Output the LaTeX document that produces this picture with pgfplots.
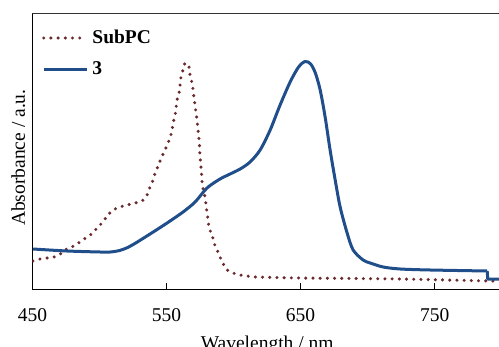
\documentclass[border=0pt]{standalone}
\usepackage{fontspec}
\setmainfont{Liberation Serif}
\usepackage{pgfplots}
\pgfplotsset{compat=1.18}
\definecolor{cblue}{RGB}{31,78,138}
\definecolor{cmaroon}{RGB}{107,42,45}
\begin{document}
\begin{tikzpicture}
\begin{axis}[
  scale only axis,
  width=466.5bp, height=276bp,
  xmin=450, xmax=798, ymin=0, ymax=276,
  axis x line*=bottom, axis y line*=left,
  axis line style={line width=0.8bp, black},
  xtick={450,550,650,750}, ytick=\empty,
  tick align=inside,
  major tick length=6bp,
  every tick/.style={black, line width=0.8bp},
  /pgf/number format/assume math mode=true,
  ticklabel style={font=\fontsize{19.5bp}{23bp}\selectfont},
  xticklabel style={anchor=base, yshift=-32bp},
  xlabel={Wavelength / nm},
  ylabel={Absorbance / a.u.},
  label style={font=\fontsize{19.5bp}{23bp}\selectfont},
  xlabel style={at={(axis description cs:0.503,0)}, anchor=base, yshift=-60bp},
  ylabel style={at={(axis description cs:-0.0161,0.476)}, anchor=base, rotate=0},
  legend style={draw=none, fill=none, inner sep=0pt, outer sep=0pt,
    at={(axis description cs:0.0204,0.942)}, anchor=north west,
    font=\fontsize{19.5bp}{23bp}\selectfont\bfseries,
    row sep=13bp, column sep=4bp,
    nodes={inner sep=0pt, text height=14bp, text depth=4bp}},
  legend cell align=left,
  legend image code/.code={\draw[#1] (0bp,0bp) -- (43bp,0bp);},
]
\draw[line width=0.8bp, black!80] (rel axis cs:0,1) -- (rel axis cs:1,1);
\addplot[cmaroon, line width=3.4bp, line cap=round, dash pattern=on 0pt off 7.2bp, smooth, tension=0.3] coordinates {
(450.4,28) (455.6,30) (460.8,31) (466.0,32) (472.0,36) (476.5,41) (481.0,43)
(485.4,47) (490.7,52) (495.1,56) (498.1,61) (502.6,67) (505.6,73) (510.1,79)
(515.3,82) (520.5,84) (526.5,86) (531.8,88) (535.5,94) (537.7,102) (540.0,109)
(541.5,116) (543.7,123) (546.0,131) (548.2,137) (550.4,144) (552.6,151)
(554.1,159) (554.9,166) (556.4,174) (557.1,181) (557.8,189) (559.3,196)
(560.1,204) (560.8,212) (562.3,219) (563.8,226) (565.3,225) (566.8,222)
(567.5,214) (569.0,206) (569.8,199) (570.5,191) (571.3,183) (572.0,176)
(572.8,168) (573.3,161) (574.0,153) (574.5,145) (574.8,137) (575.2,130)
(575.7,122) (576.1,115) (576.5,107) (577.3,100) (578.7,92) (579.5,84)
(580.2,76) (581.0,69) (581.7,61) (584.0,54) (585.4,46) (587.7,39) (589.9,32)
(594.4,20) (599.6,16) (604.9,14) (610.1,13) (616.0,12) (649.6,11) (724.3,10)
(791.5,8) (796.6,8)
};
\addlegendentry{SubPC}
\addplot[cblue, line width=3bp, line join=round, smooth, tension=0.5] coordinates {
(450.4,40) (475.7,38) (500.4,37) (508,37) (515,38.5) (521,41.5) (527,46) (537.7,55)
(550.4,66) (562.3,77) (571.3,87) (580.2,101) (589.9,110) (597.4,115)
(604.9,120) (612.3,127) (619.8,139) (627.3,159) (634.7,184) (642.2,207)
(648.5,222) (653.4,227.5) (657.5,225) (661,216) (664.6,199) (668.3,172) (672.0,139)
(675.8,109) (679.5,82) (684.7,56) (689.2,39) (696.6,29) (701.9,26)
(711.6,22) (724.3,20) (746.6,19) (789.2,18)
};
\addplot[cblue, line width=3bp, line join=round, forget plot] coordinates {
(789.2,18) (789.6,10) (798.1,10)
};
\addlegendentry{3}
\end{axis}
\pgfresetboundingbox
\path[use as bounding box] (-32.5bp,-58bp) rectangle (466.5bp,289bp);
\end{tikzpicture}
\end{document}
